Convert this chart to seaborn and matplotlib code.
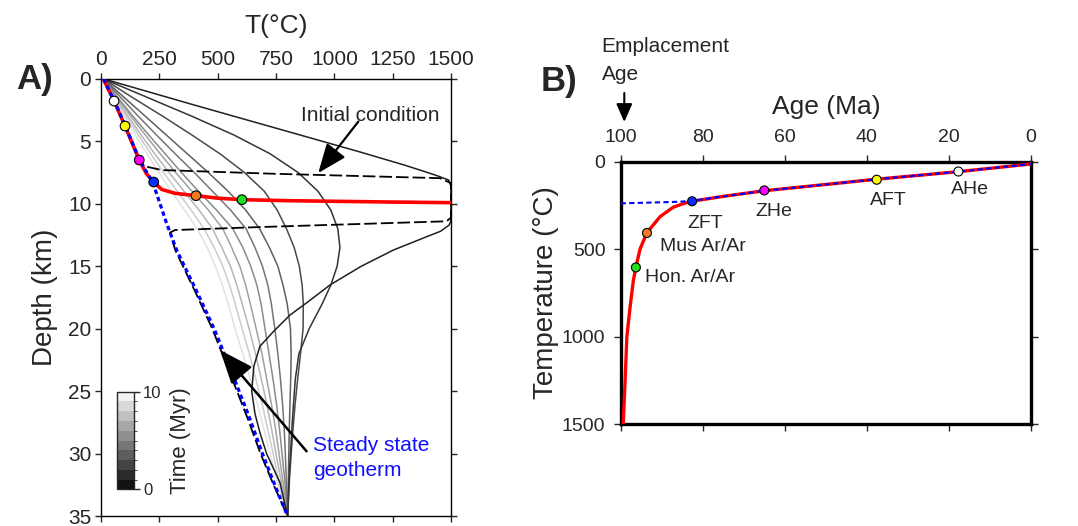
import numpy as np
import pandas as pd
import matplotlib
matplotlib.use("Agg")
import matplotlib.pyplot as plt
import seaborn as sns
from matplotlib.colors import ListedColormap, BoundaryNorm
from matplotlib.cm import ScalarMappable

# ---------------- data: panel A (depth km, temperature degC) ----------------
depth_grid = [0, 1.5, 3, 4.5, 6, 7.5, 9, 10.5, 12, 13.5, 15, 16.5, 18, 20, 22, 24, 26, 28, 30, 32, 35]
T_t2 = [10, 200, 390, 570, 725, 845, 930, 985, 1015, 1024, 1012, 985, 948, 892, 848, 833, 825, 818, 812, 806, 800]
T_t3 = [10, 135, 265, 390, 510, 615, 700, 755, 795, 828, 850, 862, 867, 866, 855, 843, 832, 823, 815, 808, 800]
T_t4 = [10, 100, 190, 280, 370, 460, 545, 620, 680, 722, 758, 780, 798, 812, 815, 813, 810, 807, 805, 803, 800]
T_t5 = [10, 85, 160, 238, 318, 400, 478, 555, 622, 660, 692, 715, 730, 745, 758, 769, 778, 785, 790, 794, 800]
T_t6 = [10, 72, 137, 205, 275, 345, 418, 495, 565, 608, 642, 668, 686, 703, 720, 737, 752, 765, 776, 787, 800]
T_t7 = [10, 68, 128, 190, 254, 320, 390, 460, 522, 560, 595, 620, 640, 665, 690, 710, 730, 748, 763, 778, 800]
T_t8 = [10, 62, 116, 172, 230, 292, 356, 420, 478, 518, 555, 582, 605, 635, 662, 687, 710, 731, 750, 770, 800]
T_t9 = [10, 58, 108, 160, 213, 268, 327, 386, 442, 485, 522, 551, 575, 605, 636, 663, 690, 714, 738, 760, 800]
T_t10 = [10, 54, 100, 148, 197, 248, 302, 358, 412, 455, 490, 520, 545, 575, 608, 640, 670, 698, 725, 752, 800]

depth_t1 = [0, 2.1, 3.95, 5.8, 6.9, 7.5, 7.75, 8.1, 8.6, 11.0, 11.4, 11.7, 12.2, 12.6, 13.7, 15.0,
            16.5, 17.8, 18.9, 20.2, 21.4, 23.0, 25.0, 26.8, 28.3, 30.0, 32.3, 35.0]
T_t1 = [10, 400, 750, 1100, 1300, 1400, 1440, 1490, 1500, 1500, 1499, 1492, 1455, 1400, 1253, 1115,
        981, 890, 810, 740, 681, 655, 646, 660, 681, 710, 767, 800]

depth_init = [0, 3.8, 6.5, 7.0, 7.3, 7.6, 7.95, 8.35, 11.1, 11.4, 11.86, 12.1, 12.3, 12.75,
              13.7, 17, 20, 23, 25, 27, 30, 32.5, 35]
T_init = [10, 103, 164, 188, 260, 746, 1453, 1500, 1500, 1481, 681, 317, 296, 303,
          318, 403, 477, 541, 583, 625, 684, 740, 800]

depth_ss = [0, 1.8, 3.8, 6.5, 8.3, 10.5, 11.5, 13.7, 17, 20, 23, 25, 27, 30, 32.5, 35]
T_ss = [10, 58, 105, 165, 222, 262, 280, 324, 410, 485, 550, 592, 634, 692, 745, 800]

depth_path = [0, 1.78, 3.78, 6.5, 7.6, 8.26, 8.85, 9.16, 9.35, 9.55, 9.67, 9.75, 9.8, 9.86, 9.91]
T_path = [10, 56, 103, 164, 195, 226, 260, 317, 407, 500, 604, 800, 1000, 1250, 1500]

systems = ["AHe", "AFT", "ZHe", "ZFT", "Mus Ar/Ar", "Hon. Ar/Ar"]
sys_colors = ["#ffffff", "#ffff00", "#ff00ff", "#0a2cff", "#f57a1f", "#1fe01f"]
sys_T = [56, 103, 164, 226, 407, 604]
sys_depth = [1.78, 3.78, 6.5, 8.26, 9.35, 9.67]
sys_age = [17.7, 37.6, 65.0, 82.6, 93.6, 96.3]

# ---------------- data: panel B (age Ma, temperature degC) ----------------
age_red = [99.4, 98.95, 98.5, 97.7, 96.9, 96.3, 95.3, 93.6, 90.4, 87.2, 84.5, 82.6, 75, 65, 50, 37.6, 17.7, 0]
T_red = [1500, 1266, 1000, 828, 676, 603, 500, 405, 314, 260, 238, 226, 198, 166, 130, 100, 57, 13]
age_blue = [100, 92, 86, 82.6, 75, 65, 50, 37.6, 17.7, 0]
T_blue = [238, 233, 229, 224, 198, 166, 130, 100, 57, 13]

times = [1, 2, 3, 4, 5, 6, 7, 8, 9, 10]
x_ticks_A = [0, 250, 500, 750, 1000, 1250, 1500]
y_ticks_A = [0, 5, 10, 15, 20, 25, 30, 35]
x_ticks_B = [100, 80, 60, 40, 20, 0]
y_ticks_B = [0, 500, 1000, 1500]

# ---------------- style ----------------
sns.set_style("ticks")
plt.rcParams['font.family'] = ['Liberation Sans', 'DejaVu Sans']
plt.rcParams['axes.unicode_minus'] = False

W, H = 1078, 526
fig = plt.figure(figsize=(W / 100, H / 100), dpi=100)

def fx(px):
    return px / W

def fy(py):
    return 1 - py / H

# ================= Panel A =================
axA = fig.add_axes([fx(101), fy(516.3), fx(350), (516.3 - 78.8) / H])

grey_levels = np.linspace(0.07, 0.95, 10)
curve_greys = {t: str(round(0.12 + (t - 1) * 0.085, 3)) for t in times}

rows = []
for t, arr in zip(times[1:], [T_t2, T_t3, T_t4, T_t5, T_t6, T_t7, T_t8, T_t9, T_t10]):
    for d, T in zip(depth_grid, arr):
        rows.append((t, d, T))
for d, T in zip(depth_t1, T_t1):
    rows.append((1, d, T))
df = pd.DataFrame(rows, columns=["time", "depth", "T"])
for t in times[::-1]:
    sub = df[df.time == t]
    sns.lineplot(data=sub, x="T", y="depth", sort=False, estimator=None,
                 color=curve_greys[t], lw=1.1, ax=axA, zorder=2)

sns.lineplot(x=T_init, y=depth_init, sort=False, estimator=None, color="black",
             lw=1.3, linestyle=(0, (7, 2.2)), ax=axA, zorder=3)
sns.lineplot(x=T_path, y=depth_path, sort=False, estimator=None, color="#ff0000",
             lw=2.6, ax=axA, zorder=4)
sns.lineplot(x=T_ss, y=depth_ss, sort=False, estimator=None, color="#0000ff",
             lw=2.3, linestyle=(0, (1.4, 1.0)), ax=axA, zorder=5)
sns.scatterplot(x=sys_T, y=sys_depth, hue=systems, palette=dict(zip(systems, sys_colors)),
                s=48, edgecolor="black", linewidth=0.8, legend=False, ax=axA, zorder=6)

axA.set_xlim(0, 1500)
axA.set_ylim(35, 0)
axA.set_xticks(x_ticks_A)
axA.set_yticks(y_ticks_A)
axA.xaxis.tick_top()
axA.xaxis.set_label_position("top")
axA.tick_params(which="both", direction="out", top=True, bottom=True, left=True, right=True,
                labeltop=True, labelbottom=False, labelsize=15, length=4, width=1, pad=3)
for s in axA.spines.values():
    s.set_linewidth(1.0)
    s.set_color("black")
axA.set_xlabel("T(°C)", fontsize=19, labelpad=12)
axA.set_ylabel("Depth (km)", fontsize=20, labelpad=7)

axA.text(1153, 2.9, "Initial condition", fontsize=15, ha="center", va="center", zorder=8)
axA.annotate("", xy=(931, 7.54), xytext=(1103, 3.42),
             arrowprops=dict(arrowstyle="-|>,head_length=0.6,head_width=0.24", mutation_scale=30,
                             color="black", lw=1.6, shrinkA=0, shrinkB=0), zorder=8)
axA.text(909, 29.35, "Steady state", fontsize=15, ha="left", va="center", color="#1010ff", zorder=8)
axA.text(909, 31.35, "geotherm", fontsize=15, ha="left", va="center", color="#1010ff", zorder=8)
axA.annotate("", xy=(510, 21.7), xytext=(881, 29.8),
             arrowprops=dict(arrowstyle="-|>,head_length=0.7,head_width=0.28", mutation_scale=30,
                             color="black", lw=1.8, shrinkA=0, shrinkB=0), zorder=8)

fig.text(fx(16), fy(79), "A)", fontsize=25, fontweight="bold", ha="left", va="center")

# colorbar (time)
cax = fig.add_axes([fx(117), fy(489.3), fx(16.5), 97.6 / H])
cmap = ListedColormap([str(round(g, 3)) for g in grey_levels])
norm = BoundaryNorm(np.arange(0, 11), 10)
cb = fig.colorbar(ScalarMappable(norm=norm, cmap=cmap), cax=cax, ticks=[0, 10])
cb.outline.set_linewidth(1.0)
cb.ax.tick_params(labelsize=12, length=4, width=1, pad=3)
cb.set_label("Time (Myr)", fontsize=16, labelpad=6)

# ================= Panel B =================
axB = fig.add_axes([fx(620.7), fy(424.3), fx(410.3), 262.6 / H])
sns.lineplot(x=age_red, y=T_red, sort=False, estimator=None, color="#ff0000", lw=2.4, ax=axB, zorder=3)
sns.lineplot(x=age_blue, y=T_blue, sort=False, estimator=None, color="#0000ff", lw=1.5,
             linestyle=(0, (2.5, 1.6)), ax=axB, zorder=4)
sns.scatterplot(x=sys_age, y=sys_T, hue=systems, palette=dict(zip(systems, sys_colors)),
                s=42, edgecolor="black", linewidth=0.8, legend=False, ax=axB, zorder=6)
axB.set_xlim(100, 0)
axB.set_ylim(1500, 0)
axB.set_xticks(x_ticks_B)
axB.set_yticks(y_ticks_B)
axB.xaxis.tick_top()
axB.xaxis.set_label_position("top")
axB.tick_params(which="both", direction="out", top=True, bottom=True, left=True, right=True,
                labeltop=True, labelbottom=False, labelsize=14, length=5, width=1, pad=6)
for s in axB.spines.values():
    s.set_linewidth(2.4)
    s.set_color("black")
axB.set_xlabel("Age (Ma)", fontsize=19, labelpad=11)
axB.set_ylabel("Temperature (°C)", fontsize=20, labelpad=2)

label_pos = {
    "AHe": (14.9, 156, "center"),
    "AFT": (34.8, 219, "center"),
    "ZHe": (62.6, 285, "center"),
    "ZFT": (79.5, 352, "center"),
    "Mus Ar/Ar": (90.4, 485, "left"),
    "Hon. Ar/Ar": (94.1, 660, "left"),
}
for name, (a, T, ha) in label_pos.items():
    axB.text(a, T, name, fontsize=14, ha=ha, va="center", zorder=8)

fig.text(fx(541), fy(81.7), "B)", fontsize=25, fontweight="bold", ha="left", va="center")
fig.text(fx(601.7), fy(46.7), "Emplacement", fontsize=15, ha="left", va="center")
fig.text(fx(601.7), fy(75), "Age", fontsize=15, ha="left", va="center")
axB.annotate("", xy=(624.3, H - 122), xycoords="figure pixels",
             xytext=(624.3, H - 93), textcoords="figure pixels",
             arrowprops=dict(arrowstyle="-|>,head_length=0.5,head_width=0.22", mutation_scale=22,
                             color="black", lw=1.5, shrinkA=0, shrinkB=0), annotation_clip=False)

fig.savefig("out.png", dpi=100, facecolor="white")
